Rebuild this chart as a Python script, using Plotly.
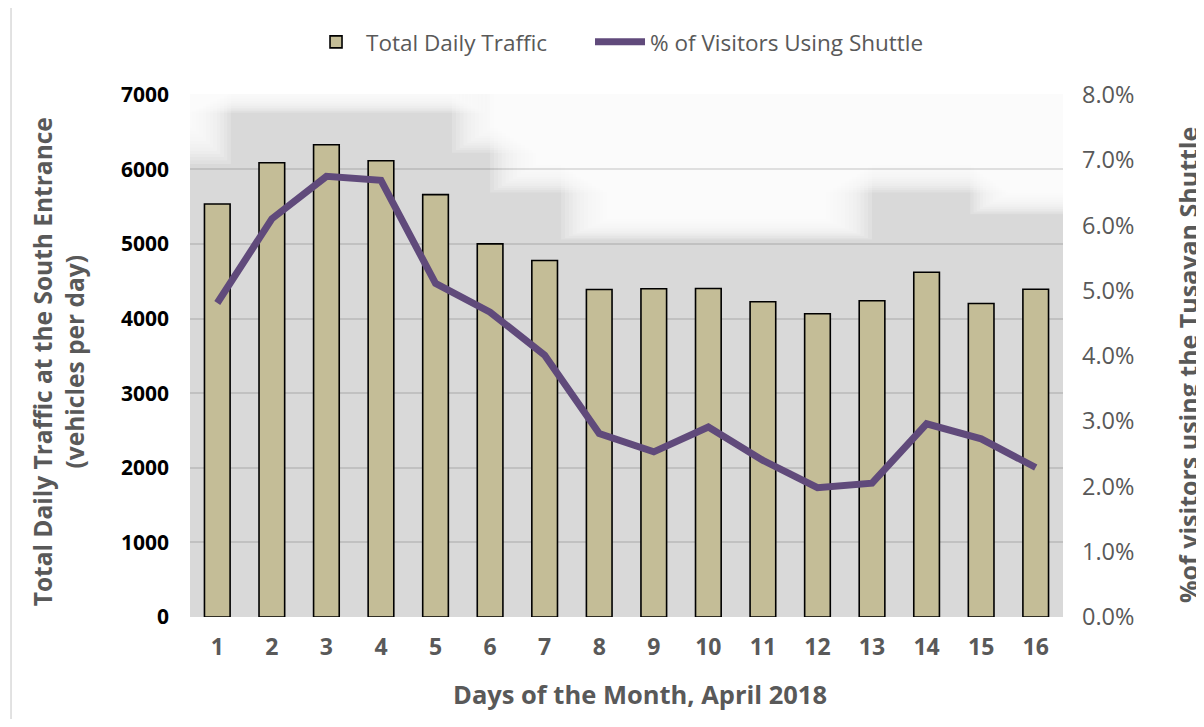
import plotly.graph_objects as go

# ---- data ----
days = list(range(1, 17))
day_labels = [str(d) for d in days]
traffic = [5538, 6091, 6332, 6118, 5663, 5003, 4779, 4391, 4400, 4404, 4226, 4065, 4240, 4623, 4203, 4395]
shuttle_pct = [4.81, 6.10, 6.75, 6.69, 5.11, 4.67, 4.01, 2.81, 2.53, 2.91, 2.40, 1.98, 2.05, 2.96, 2.73, 2.29]
left_ticks = [0, 1000, 2000, 3000, 4000, 5000, 6000, 7000]
right_ticks = [0, 0.01, 0.02, 0.03, 0.04, 0.05, 0.06, 0.07, 0.08]

# soft white glow regions in the plot background (x0, x1, y0, y1, blur_x, blur_y)
GLOW_REGIONS = [
    (-1.0, 0.7, 6450, 7600, 1.1, 750),
    (-1.0, 5.4, 6950, 7600, 1.0, 380),
    (5.9, 17.5, 6500, 7600, 1.2, 550),
    (6.6, 17.5, 5950, 7600, 1.2, 520),
    (7.9, 12.4, 5250, 7600, 1.2, 380),
    (15.3, 17.5, 5600, 7600, 1.0, 400),
]

FONT = "Open Sans"
GRAY_TXT = "#595959"

fig = go.Figure()

fig.add_trace(go.Bar(
    x=days, y=traffic, name="Total Daily Traffic",
    marker=dict(color="#c4bd97", line=dict(color="#000000", width=1.6)),
    yaxis="y", legend="legend",
))
fig.add_trace(go.Scatter(
    x=days, y=[p / 100 for p in shuttle_pct], name="% of Visitors Using Shuttle",
    mode="lines", line=dict(color="#604a7b", width=7),
    yaxis="y2", legend="legend2",
))

shapes = []
n = 18
for (x0, x1, y0, y1, bx, by) in GLOW_REGIONS:
    for k in range(n):
        t = k / (n - 1) - 0.5
        shapes.append(dict(
            type="rect", xref="x", yref="y", layer="below",
            x0=x0 - t * bx, x1=x1 + t * bx, y0=y0 - t * by, y1=y1 + t * by,
            fillcolor="rgba(255,255,255,0.18)", line=dict(width=0),
        ))
# outer chart border (left edge visible)
shapes.append(dict(type="line", xref="paper", yref="paper",
                   x0=-0.205, x1=-0.205, y0=-0.25, y1=1.25,
                   line=dict(color="#d9d9d9", width=1.5)))

legend_common = dict(orientation="h", xanchor="left", y=1.099, yanchor="middle",
                     font=dict(family=FONT, size=22.5, color=GRAY_TXT),
                     itemwidth=50, bgcolor="rgba(0,0,0,0)")

fig.update_layout(
    width=1196, height=711,
    margin=dict(l=182, r=141, t=86, b=102),
    paper_bgcolor="white",
    plot_bgcolor="#d9d9d9",
    font=dict(family=FONT, color=GRAY_TXT),
    bargap=0.53,
    showlegend=True,
    legend=dict(x=0.1329, **legend_common),
    legend2=dict(x=0.4582, **legend_common),
    shapes=shapes,
    xaxis=dict(range=[0.5, 16.5], tickvals=days, ticktext=day_labels,
               showgrid=False, zeroline=False, showline=False,
               ticks="", ticklabelstandoff=14,
               tickfont=dict(family=FONT, size=23, color=GRAY_TXT, weight="bold")),
    yaxis=dict(range=[0, 7012], tickvals=left_ticks, showgrid=True,
               gridcolor="rgba(0,0,0,0.11)", gridwidth=2, zeroline=False, showline=False,
               ticks="", ticklabelstandoff=20,
               tickfont=dict(family=FONT, size=21, color="#000000", weight="bold")),
    yaxis2=dict(range=[0, 0.08012], tickvals=right_ticks, tickformat=".1%",
                overlaying="y", side="right", showgrid=False, zeroline=False,
                showline=False, ticks="", ticklabelstandoff=18,
                tickfont=dict(family=FONT, size=23.5, color=GRAY_TXT)),
    annotations=[
        dict(text="<b>Total Daily Traffic at the South Entrance<br>(vehicles per day)</b>",
             xref="paper", yref="paper", x=-0.1506, y=0.488, xanchor="center", yanchor="middle",
             textangle=-90, showarrow=False,
             font=dict(family=FONT, size=24.5, color=GRAY_TXT)),
        dict(text="<b>%of visitors using the Tusayan Shuttle</b>",
             xref="paper", yref="paper", x=1.1432, y=0.482, xanchor="center", yanchor="middle",
             textangle=-90, showarrow=False,
             font=dict(family=FONT, size=25, color=GRAY_TXT)),
        dict(text="<b>Days of the Month, April 2018</b>",
             xref="paper", yref="paper", x=0.5155, y=-0.147, xanchor="center", yanchor="middle",
             showarrow=False, font=dict(family=FONT, size=25.5, color=GRAY_TXT)),
    ],
)

fig.write_html("out.html")
